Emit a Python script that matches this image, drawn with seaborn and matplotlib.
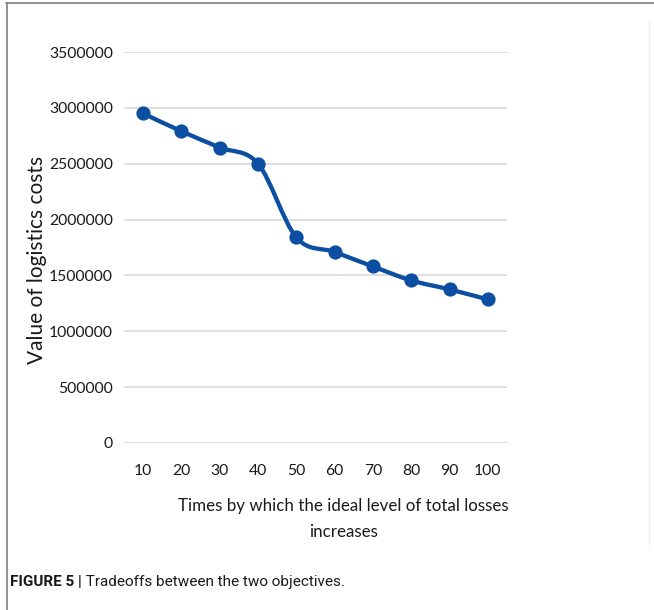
import numpy as np
import pandas as pd
import matplotlib
matplotlib.use('Agg')
import matplotlib.pyplot as plt
from matplotlib.path import Path
from matplotlib.patches import PathPatch
from matplotlib.lines import Line2D
import seaborn as sns

# data
times = ['10', '20', '30', '40', '50', '60', '70', '80', '90', '100']
costs = [2950000, 2790000, 2645000, 2500000, 1840000, 1710000, 1580000, 1455000, 1375000, 1285000]
y_ticks = [0, 500000, 1000000, 1500000, 2000000, 2500000, 3000000, 3500000]

BLUE = '#0B4EA2'
FONT = ['Lato', 'DejaVu Sans']
CAPFONT = ['Roboto', 'DejaVu Sans']
INK = '#1A1A1A'


def smooth_path(xs, ys):
    '''
    Excel-like smoothed line (Catmull-Rom as cubic beziers) through the points
    '''
    pts = np.column_stack([xs, ys]).astype(float)
    n = len(pts)
    verts = [pts[0]]
    codes = [Path.MOVETO]
    for i in range(n - 1):
        p0 = pts[max(i - 1, 0)]
        p1 = pts[i]
        p2 = pts[i + 1]
        p3 = pts[min(i + 2, n - 1)]
        verts += [p1 + (p2 - p0) / 6, p2 - (p3 - p1) / 6, p2]
        codes += [Path.CURVE4] * 3
    return Path(verts, codes)


sns.set_theme(style='white')
plt.rcParams['font.family'] = FONT

df = pd.DataFrame({'pos': np.arange(len(times)), 'cost': costs})

fig = plt.figure(figsize=(6.54, 6.10), dpi=100)
ax = fig.add_axes([124 / 654, 1 - 443 / 610, 383 / 654, 391 / 610])

ax.add_patch(PathPatch(smooth_path(df.pos, df.cost), facecolor='none',
                       edgecolor=BLUE, lw=3.1, capstyle='round', zorder=2))
sns.scatterplot(data=df, x='pos', y='cost', ax=ax, s=105, color=BLUE,
                edgecolor=BLUE, linewidth=0, zorder=3, legend=False)

ax.set_xlim(-0.5, len(times) - 0.5)
ax.set_ylim(0, 3500000)
ax.set_yticks(y_ticks, labels=[str(v) for v in y_ticks])
ax.set_xticks(df.pos, labels=times)
ax.yaxis.grid(True, color='#D9D9D9', lw=1.2)
ax.xaxis.grid(False)
for s in ax.spines.values():
    s.set_visible(False)
ax.tick_params(axis='y', length=0, pad=8, labelsize=11.3, labelcolor=INK)
ax.tick_params(axis='x', length=0, pad=15, labelsize=11.3, labelcolor=INK)

ax.set_ylabel('Value of logistics costs', fontsize=15, color=INK)
ax.yaxis.set_label_coords((47 - 124) / 383, 0.5 + (443 - 260 - 391 / 2) / 391)
ax.set_xlabel('Times by which the ideal level of total losses\nincreases',
              fontsize=12.2, color=INK, linespacing=1.75)
ax.xaxis.set_label_coords((343 - 124) / 383, -(498 - 443) / 391)
ax.xaxis.label.set_va('top')

# caption
t1 = fig.text(10 / 654, 1 - 586 / 610, 'FIGURE 5 |', fontsize=11, weight='bold',
              color=INK, va='baseline', family=CAPFONT)
ax.annotate(' Tradeoffs between the two objectives.', xy=(1, 0), xycoords=t1,
            va='bottom', fontsize=11, color=INK, family=CAPFONT,
            annotation_clip=False)

# frame around the figure panel
fig.add_artist(Line2D([6 / 654, 1], [1 - 3 / 610] * 2, color='#7F7F7F', lw=1.2))
fig.add_artist(Line2D([7 / 654] * 2, [0, 1 - 3 / 610], color='#7F7F7F', lw=1.2))
fig.add_artist(Line2D([649 / 654] * 2, [1 - 545 / 610, 1 - 20 / 610], color='#F0F0F0', lw=1))

fig.savefig('out.png', dpi=100)
